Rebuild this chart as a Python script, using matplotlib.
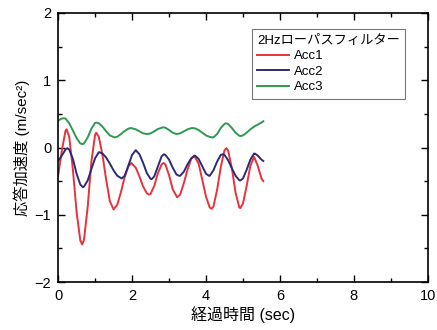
import matplotlib
matplotlib.use("Agg")
import matplotlib.pyplot as plt
from matplotlib.ticker import MultipleLocator

plt.rcParams['font.family'] = ['Liberation Sans', 'Noto Sans CJK JP', 'DejaVu Sans']

# Acc1 (赤)
t1 = [0.0, 0.1, 0.2, 0.23, 0.3, 0.4, 0.5, 0.6, 0.65, 0.7, 0.8, 0.9, 1.0, 1.03,
      1.1, 1.2, 1.3, 1.4, 1.5, 1.6, 1.7, 1.8, 1.9, 1.98, 2.1, 2.2, 2.3, 2.4,
      2.46, 2.5, 2.6, 2.7, 2.8, 2.85, 2.9, 3.0, 3.1, 3.22, 3.3, 3.4, 3.5, 3.6,
      3.68, 3.8, 3.9, 4.0, 4.1, 4.15, 4.2, 4.3, 4.4, 4.5, 4.55, 4.6, 4.7, 4.8,
      4.9, 4.93, 5.0, 5.1, 5.2, 5.3, 5.4, 5.5, 5.55]
acc1 = [-0.42, -0.05, 0.25, 0.27, 0.16, -0.33, -0.96, -1.38, -1.44, -1.37,
        -0.88, -0.21, 0.19, 0.22, 0.16, -0.11, -0.48, -0.80, -0.92, -0.85,
        -0.66, -0.44, -0.28, -0.23, -0.30, -0.43, -0.58, -0.68, -0.70, -0.69,
        -0.57, -0.38, -0.25, -0.23, -0.25, -0.41, -0.62, -0.74, -0.70, -0.53,
        -0.33, -0.17, -0.12, -0.24, -0.48, -0.73, -0.89, -0.91, -0.88, -0.63,
        -0.29, -0.04, -0.01, -0.05, -0.31, -0.67, -0.89, -0.90, -0.83, -0.57,
        -0.27, -0.14, -0.27, -0.46, -0.50]

# Acc2 (青)
t2 = [0.0, 0.1, 0.2, 0.25, 0.3, 0.4, 0.5, 0.6, 0.67, 0.7, 0.8, 0.9, 1.0, 1.1,
      1.12, 1.2, 1.3, 1.4, 1.5, 1.6, 1.72, 1.8, 1.9, 2.0, 2.1, 2.2, 2.3, 2.4,
      2.5, 2.53, 2.6, 2.7, 2.8, 2.86, 2.9, 3.0, 3.1, 3.2, 3.27, 3.3, 3.4, 3.5,
      3.6, 3.7, 3.8, 3.9, 4.0, 4.08, 4.1, 4.2, 4.3, 4.4, 4.45, 4.5, 4.6, 4.7,
      4.8, 4.9, 4.93, 5.0, 5.1, 5.2, 5.3, 5.32, 5.4, 5.5, 5.55]
acc2 = [-0.20, -0.12, -0.03, -0.01, -0.03, -0.17, -0.39, -0.55, -0.59, -0.58,
        -0.49, -0.32, -0.16, -0.07, -0.07, -0.09, -0.15, -0.24, -0.34, -0.42,
        -0.46, -0.42, -0.27, -0.11, -0.04, -0.10, -0.23, -0.38, -0.465, -0.47,
        -0.43, -0.28, -0.13, -0.10, -0.11, -0.18, -0.30, -0.40, -0.42, -0.42,
        -0.36, -0.25, -0.16, -0.12, -0.17, -0.28, -0.39, -0.42, -0.42, -0.34,
        -0.21, -0.11, -0.10, -0.11, -0.19, -0.31, -0.42, -0.485, -0.49, -0.46,
        -0.33, -0.18, -0.09, -0.09, -0.12, -0.18, -0.20]

# Acc3 (緑)
t3 = [0.0, 0.1, 0.15, 0.2, 0.3, 0.4, 0.5, 0.6, 0.66, 0.7, 0.8, 0.9, 1.0, 1.03,
      1.1, 1.2, 1.3, 1.4, 1.52, 1.6, 1.7, 1.8, 1.9, 1.97, 2.1, 2.2, 2.3, 2.41,
      2.5, 2.6, 2.7, 2.84, 2.9, 3.0, 3.1, 3.2, 3.3, 3.4, 3.5, 3.62, 3.7, 3.8,
      3.9, 4.0, 4.1, 4.18, 4.2, 4.3, 4.4, 4.5, 4.54, 4.6, 4.7, 4.8, 4.9, 4.94,
      5.0, 5.1, 5.2, 5.3, 5.4, 5.5, 5.55]
acc3 = [0.40, 0.43, 0.435, 0.43, 0.36, 0.25, 0.14, 0.06, 0.05, 0.06, 0.15,
        0.28, 0.365, 0.37, 0.36, 0.31, 0.24, 0.18, 0.15, 0.16, 0.20, 0.245,
        0.28, 0.29, 0.27, 0.24, 0.21, 0.20, 0.21, 0.24, 0.275, 0.30, 0.295,
        0.26, 0.22, 0.20, 0.21, 0.24, 0.27, 0.29, 0.285, 0.26, 0.22, 0.18,
        0.157, 0.15, 0.15, 0.20, 0.29, 0.35, 0.36, 0.35, 0.29, 0.22, 0.175,
        0.17, 0.18, 0.22, 0.27, 0.31, 0.34, 0.37, 0.39]

fig = plt.figure(figsize=(4.37, 3.30), dpi=100)
ax = fig.add_axes([0.133, 0.145, 0.846, 0.816])

ax.plot(t1, acc1, color='#e8323c', lw=1.4, label='Acc1')
ax.plot(t2, acc2, color='#2d2b78', lw=1.4, label='Acc2')
ax.plot(t3, acc3, color='#2f9a4f', lw=1.4, label='Acc3')

ax.set_xlim(0, 10)
ax.set_ylim(-2, 2)
ax.xaxis.set_major_locator(MultipleLocator(2))
ax.xaxis.set_minor_locator(MultipleLocator(1))
ax.yaxis.set_major_locator(MultipleLocator(1))
ax.yaxis.set_minor_locator(MultipleLocator(0.5))
ax.tick_params(which='both', direction='in', top=True, right=True,
               labelsize=10.5, width=1.0)
ax.tick_params(which='major', length=5, pad=5)
ax.tick_params(which='minor', length=3)
for s in ax.spines.values():
    s.set_linewidth(1.2)

ax.set_xlabel('経過時間 (sec)', fontsize=11.5, labelpad=2)
ax.set_ylabel('応答加速度 (m/sec²)', fontsize=11, labelpad=3)

leg = ax.legend(title='2Hzローパスフィルター', loc='upper right',
                bbox_to_anchor=(0.957, 0.963), alignment='left',
                fontsize=9.5, title_fontsize=9.5, fancybox=False,
                edgecolor='#777777', framealpha=1, handlelength=2.4,
                handletextpad=0.4, labelspacing=0.25, borderpad=0.4)
leg.get_frame().set_linewidth(0.8)

fig.savefig('out.png', dpi=100)
